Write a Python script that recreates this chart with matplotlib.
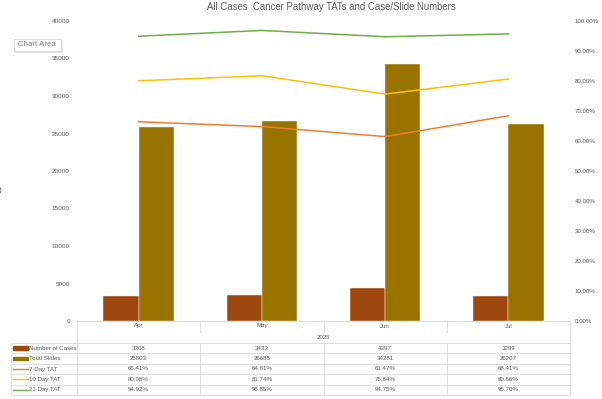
import numpy as np
import matplotlib
matplotlib.use("Agg")
import matplotlib.pyplot as plt
from matplotlib.ticker import FuncFormatter, MultipleLocator
from matplotlib.patches import Rectangle, FancyBboxPatch

months = ["Apr", "May", "Jun", "Jul"]
year = "2025"
cases = [3308, 3433, 4397, 3299]
slides = [25803, 26688, 34281, 26207]
tat7 = [66.41, 64.81, 61.47, 68.41]
tat10 = [80.08, 81.74, 75.64, 80.66]
tat21 = [94.92, 96.85, 94.75, 95.70]

plt.rcParams["font.family"] = ["Liberation Sans", "DejaVu Sans"]

grey = "#595959"
grid_col = "#D9D9D9"
c_cases = "#9E480E"
c_slides = "#997300"
c_7 = "#ED7D31"
c_10 = "#FFC000"
c_21 = "#70AD47"

W, H = 602, 399
fig = plt.figure(figsize=(W / 100, H / 100), dpi=100)

# plot area in pixels
px0, px1, py0, py1 = 77, 570, 21, 321
ax = fig.add_axes([px0 / W, 1 - py1 / H, (px1 - px0) / W, (py1 - py0) / H])
x = np.arange(len(months))
bw = 0.285
ax.bar(x - bw / 2, cases, bw, color=c_cases, edgecolor="white", linewidth=0.3, zorder=2)
ax.bar(x + bw / 2, slides, bw, color=c_slides, edgecolor="white", linewidth=0.3, zorder=2)
ax.set_xlim(-0.5, len(months) - 0.5)
ax.set_ylim(0, 40000)
ax.yaxis.set_major_locator(MultipleLocator(5000))
ax.set_xticks([])
ax.tick_params(axis="y", length=0, pad=5, labelsize=4.6, labelcolor=grey)
for s in ax.spines.values():
    s.set_visible(False)

ax2 = ax.twinx()
ax2.plot(x, tat7, color=c_7, lw=1.1, zorder=3)
ax2.plot(x, tat10, color=c_10, lw=1.1, zorder=3)
ax2.plot(x, tat21, color=c_21, lw=1.1, zorder=3)
ax2.set_ylim(0, 100)
ax2.yaxis.set_major_locator(MultipleLocator(10))
ax2.yaxis.set_major_formatter(FuncFormatter(lambda v, p: f"{v:.2f}%"))
ax2.tick_params(axis="y", length=0, pad=3.5, labelsize=4.4, labelcolor=grey)
for s in ax2.spines.values():
    s.set_visible(False)

fig.text(331 / W, 1 - 7 / H, "All Cases  Cancer Pathway TATs and Case/Slide Numbers",
         ha="center", va="center", fontsize=6.9, color=grey)

# data table drawn in pixel space
tb = fig.add_axes([0, 0, 1, 1])
tb.set_xlim(0, W)
tb.set_ylim(H, 0)
tb.axis("off")
tb.patch.set_alpha(0)

n = len(months)
bounds = [px0 + (px1 - px0) * i / n for i in range(n + 1)]
rows_y = [343, 353.4, 363.8, 374.2, 384.6, 395]
lx = 11
lk = dict(color=grid_col, lw=0.6)

tb.plot([px0, px1], [py1, py1], **lk)
for b in bounds[1:-1]:
    tb.plot([b, b], [py1, 332], **lk)
tb.plot([px0, px0], [py1, rows_y[-1]], **lk)
tb.plot([px1, px1], [py1, rows_y[-1]], **lk)
for ry in rows_y:
    tb.plot([lx, px1], [ry, ry], **lk)
tb.plot([lx, lx], [rows_y[0], rows_y[-1]], **lk)
for b in bounds[1:-1]:
    tb.plot([b, b], [rows_y[0], rows_y[-1]], **lk)

fs = 4.4
for i, m in enumerate(months):
    cx = (bounds[i] + bounds[i + 1]) / 2
    tb.text(cx, 326, m, ha="center", va="center", fontsize=fs, color=grey)
tb.text((px0 + px1) / 2, 337.5, year, ha="center", va="center", fontsize=fs, color=grey)

series = [
    ("Number of Cases", cases, "bar", c_cases, lambda v: f"{v}"),
    ("Total Slides", slides, "bar", c_slides, lambda v: f"{v}"),
    ("7 Day TAT", tat7, "line", c_7, lambda v: f"{v:.2f}%"),
    ("10 Day TAT", tat10, "line", c_10, lambda v: f"{v:.2f}%"),
    ("21 Day TAT", tat21, "line", c_21, lambda v: f"{v:.2f}%"),
]
for r, (name, vals, kind, col, fmt) in enumerate(series):
    cy = (rows_y[r] + rows_y[r + 1]) / 2
    if kind == "bar":
        tb.add_patch(Rectangle((13, cy - 1.8), 15, 3.6, color=col))
    else:
        tb.plot([13, 28], [cy, cy], color=col, lw=1.0)
    tb.text(29, cy, name, ha="left", va="center", fontsize=fs, color=grey)
    for i, v in enumerate(vals):
        cx = (bounds[i] + bounds[i + 1]) / 2
        tb.text(cx, cy, fmt(v), ha="center", va="center", fontsize=fs, color=grey)

# "Chart Area" tooltip
tb.add_patch(FancyBboxPatch((15, 40), 47, 12, boxstyle="square,pad=0",
                            fc="#E8E8E8", ec="#BFBFBF", lw=0.4, alpha=0.6))
tb.add_patch(FancyBboxPatch((13.5, 39), 47, 12, boxstyle="square,pad=0",
                            fc="white", ec="#D0D0D0", lw=0.5))
tb.text(37, 45, "Chart Area", ha="center", va="center", fontsize=5.7, color="#7F7F7F")

# clipped axis-title remnant at the left edge
tb.text(-1, 190, ")", ha="left", va="center", fontsize=6, color=grey)

fig.savefig("out.png", dpi=100)
